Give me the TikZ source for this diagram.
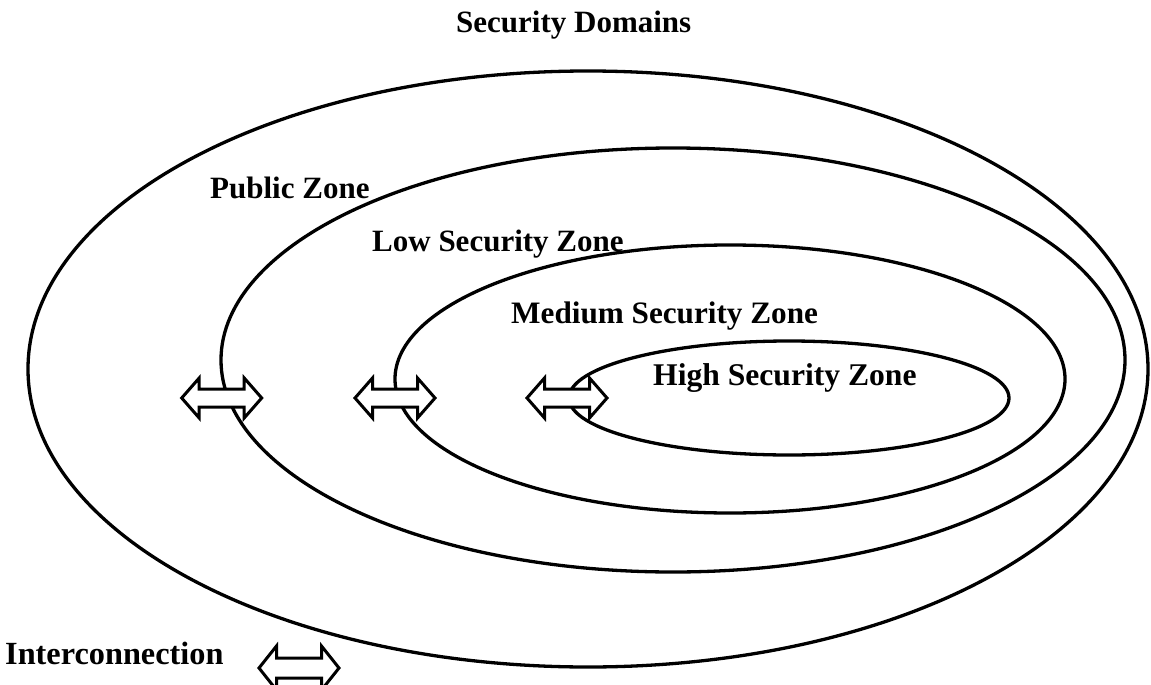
\documentclass[tikz,border=0pt]{standalone}
\usepackage{fontspec}
\setmainfont{Liberation Serif}
\usetikzlibrary{shapes.geometric}

\tikzset{
  zone/.style={ellipse, draw=black, line width=3.3pt, inner sep=0pt, outer sep=0pt},
  label/.style={anchor=base west, inner sep=0pt, font=\fontsize{#1}{36}\selectfont\bfseries},
  label/.default=31,
  arrowline/.style={draw=black, fill=white, line width=3pt, line join=miter},
  % horizontal double-headed block arrow: #1 = half head height, #2 = half shaft height
  pics/twohead/.style 2 args={code={
    \path[arrowline] (-40,0) -- (-22.5,-#1) -- (-22.5,-#2) -- (22.5,-#2) -- (22.5,-#1)
      -- (40,0) -- (22.5,#1) -- (22.5,#2) -- (-22.5,#2) -- (-22.5,#1) -- cycle;
  }}
}

\begin{document}
\begin{tikzpicture}[x=1pt, y=-1pt]
  \clip (0,0) rectangle (1151,685);
  \fill[white] (0,0) rectangle (1151,685);

  % nested security zones
  \node[zone, minimum width=1120pt, minimum height=596pt] (public) at (588,369) {};
  \node[zone, minimum width=904pt,  minimum height=424pt] (low)    at (673,360) {};
  \node[zone, minimum width=670pt,  minimum height=268pt] (medium) at (730,379) {};
  \node[zone, minimum width=440pt,  minimum height=114pt] (high)   at (789,398) {};

  % interconnections across the zone borders
  \pic at (221.7,398) {twohead={20}{9}};
  \pic at (395,398)   {twohead={20}{9}};
  \pic at (567,398)   {twohead={20}{9}};
  \pic at (299,668)   {twohead={22}{10}};

  % labels
  \node[label]       (title)     at (456,33)  {Security Domains};
  \node[label]       (publicLbl) at (210,198) {Public Zone};
  \node[label]       (lowLbl)    at (372,251) {Low Security Zone};
  \node[label=31.2]  (medLbl)    at (511,323) {Medium Security Zone};
  \node[label=31.6]  (highLbl)   at (653,385) {High Security Zone};
  \node[label=32.3]  (legendLbl) at (5,664)   {Interconnection};
\end{tikzpicture}
\end{document}
